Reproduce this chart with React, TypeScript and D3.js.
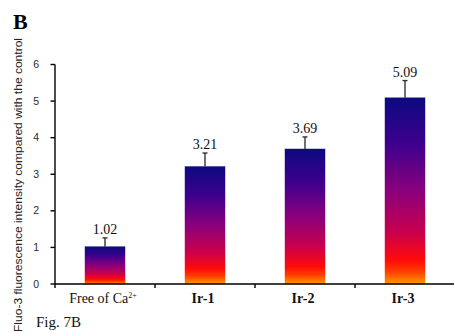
import React from "react";
import * as d3 from "d3";

const categories = ["Free of Ca", "Ir-1", "Ir-2", "Ir-3"];
const values = [1.02, 3.21, 3.69, 5.09];
const errors = [0.24, 0.37, 0.33, 0.47];
const valueLabels = ["1.02", "3.21", "3.69", "5.09"];
const yTicks = [0, 1, 2, 3, 4, 5, 6];

const W = 454;
const H = 333;
const x0 = 55;
const x1 = 455;
const yBottom = 284;
const yTop = 64.5;

export default function App() {
  const x = d3.scaleBand<string>().domain(categories).range([x0, x1]).paddingInner(0.6).paddingOuter(0.3);
  const y = d3.scaleLinear().domain([0, 6]).range([yBottom, yTop]);
  const step = x.step();
  const stops = [
    { o: 0, c: "#0c0a80" },
    { o: 0.25, c: "#3e008e" },
    { o: 0.5, c: "#8a007c" },
    { o: 0.72, c: "#c8004e" },
    { o: 0.87, c: "#ff0a0a" },
    { o: 0.93, c: "#ff3a00" },
    { o: 1, c: "#ff9a00" },
  ];
  return (
    <div style={{ position: "fixed", left: 0, top: 0, width: W, height: H, overflow: "hidden" }}>
      <svg width={W} height={H} style={{ display: "block", background: "#fff" }}>
        <defs>
          <linearGradient id="barGrad" x1="0" y1="0" x2="0" y2="1">
            {stops.map((s, i) => (
              <stop key={i} offset={s.o} stopColor={s.c} />
            ))}
          </linearGradient>
        </defs>
        <text x={13} y={29} fontFamily="Liberation Serif" fontWeight="bold" fontSize={22} fill="#000">B</text>
        <text
          transform={`translate(22,185) rotate(-90)`}
          textAnchor="middle"
          fontFamily="Liberation Sans"
          fontSize={10.5}
          fill="#222"
          textLength={294}
          lengthAdjust="spacingAndGlyphs"
        >
          Fluo-3 fluorescence intensity compared with the control
        </text>
        {categories.map((c, i) => {
          const bx = x(c)!;
          const bw = x.bandwidth();
          const top = y(values[i]);
          const et = y(values[i] + errors[i]);
          const cx = bx + bw / 2;
          return (
            <g key={c}>
              <rect x={bx} y={top} width={bw} height={yBottom - top} fill="url(#barGrad)" stroke="url(#barGrad)" strokeOpacity={0.45} strokeWidth={1} />
              <line x1={cx} x2={cx} y1={top} y2={et} stroke="#333" strokeWidth={1.4} />
              <line x1={cx - 2.5} x2={cx + 2.5} y1={et} y2={et} stroke="#333" strokeWidth={1.4} />
              <text x={cx} y={et - 4} textAnchor="middle" fontFamily="Liberation Serif" fontSize={14} fill="#111">{valueLabels[i]}</text>
              <text x={cx - 2} y={302.5} textAnchor="middle" fontFamily="Liberation Serif" fontSize={14} fontWeight={i === 0 ? "normal" : "bold"} fill="#111">
                {c}
                {i === 0 ? <tspan dy={-5} fontSize={8}>2+</tspan> : null}
              </text>
            </g>
          );
        })}
        <line x1={x0} x2={x0} y1={yTop} y2={yBottom + 4} stroke="#000" strokeWidth={1.4} />
        {yTicks.map((t) => (
          <g key={t}>
            <line x1={x0 - 4.5} x2={x0} y1={y(t)} y2={y(t)} stroke="#000" strokeWidth={1.4} />
            <text x={39} y={y(t) + 3.5} textAnchor="end" fontFamily="Liberation Sans" fontSize={10.5} fill="#2a2a2a">{t}</text>
          </g>
        ))}
        <line x1={x0} x2={W} y1={yBottom} y2={yBottom} stroke="#000" strokeWidth={1.4} />
        {categories.slice(0, 3).map((c, i) => (
          <line key={c} x1={x0 + step * (i + 1)} x2={x0 + step * (i + 1)} y1={yBottom} y2={yBottom + 4} stroke="#000" strokeWidth={1.4} />
        ))}
        <text x={36} y={327} fontFamily="Liberation Serif" fontSize={15} fill="#111">Fig. 7B</text>
      </svg>
    </div>
  );
}
